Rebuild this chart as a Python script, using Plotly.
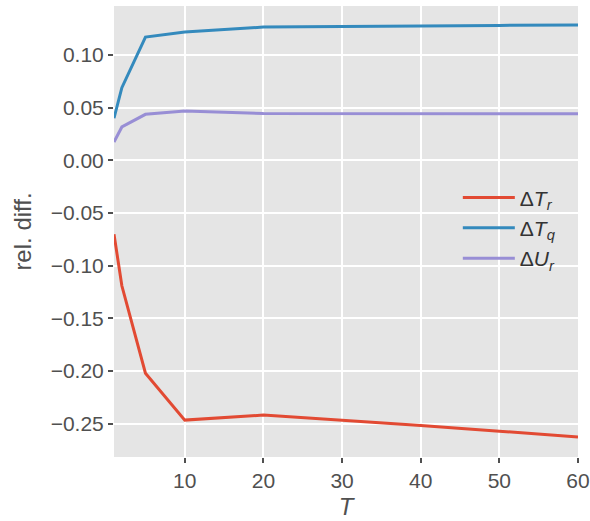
import plotly.graph_objects as go

T = [1, 2, 5, 10, 20, 30, 40, 50, 60]
dT_r = [-0.070, -0.119, -0.202, -0.2465, -0.2417, -0.2465, -0.2515, -0.2570, -0.2625]
dT_q = [0.040, 0.069, 0.117, 0.1218, 0.1265, 0.1272, 0.1277, 0.1281, 0.1285]
dU_r = [0.0174, 0.0317, 0.0437, 0.0469, 0.0444, 0.0443, 0.0443, 0.0443, 0.0443]

names = ["Δ<i>T</i><sub><i>r</i></sub>", "Δ<i>T</i><sub><i>q</i></sub>", "Δ<i>U</i><sub><i>r</i></sub>"]
colors = ["#E24A33", "#348ABD", "#988ED5"]
xticks = [10, 20, 30, 40, 50, 60]
yticks = [-0.25, -0.20, -0.15, -0.10, -0.05, 0.00, 0.05, 0.10]

fig = go.Figure()
for ys, nm, c in zip([dT_r, dT_q, dU_r], names, colors):
    fig.add_trace(go.Scatter(x=T, y=ys, mode="lines", name=nm,
                             line=dict(color=c, width=3)))

font = "Liberation Sans, Arial, sans-serif"
fig.update_layout(
    width=590, height=521,
    margin=dict(l=114, r=12, t=6, b=64, autoexpand=False),
    paper_bgcolor="white", plot_bgcolor="#E5E5E5",
    font=dict(family=font, size=21, color="#505050"),
    legend=dict(x=0.741, y=0.508, xanchor="left", yanchor="middle",
                bgcolor="rgba(0,0,0,0)", font=dict(size=21, color="#333333"),
                itemwidth=52, tracegroupgap=2),
    showlegend=True,
)
fig.update_xaxes(range=[1, 60], tickvals=xticks, ticktext=[str(v) for v in xticks],
                 automargin=False,
                 showgrid=True, gridcolor="white", gridwidth=1.8, zeroline=False,
                 ticks="outside", ticklen=5, tickwidth=1.8, tickcolor="#505050",
                 showline=False,
                 title=dict(text="<i>T</i>", font=dict(size=24, color="#505050"), standoff=6))
fig.update_yaxes(range=[-0.2815, 0.1465], tickvals=yticks,
                 ticktext=[f"{v:.2f}".replace("-", "−") for v in yticks],
                 automargin=False,
                 showgrid=True, gridcolor="white", gridwidth=1.8, zeroline=False,
                 ticks="outside", ticklen=5, tickwidth=1.8, tickcolor="#505050",
                 showline=False,
                 title=dict(text="rel. diff.", font=dict(size=24, color="#505050"), standoff=12))

fig.write_html("out.html", config={"displayModeBar": False})
with open("out.html", encoding="utf-8") as f:
    html = f.read()
html = html.replace("<head>", "<head><style>html,body{margin:0;padding:0;}</style>", 1)
with open("out.html", "w", encoding="utf-8") as f:
    f.write(html)
